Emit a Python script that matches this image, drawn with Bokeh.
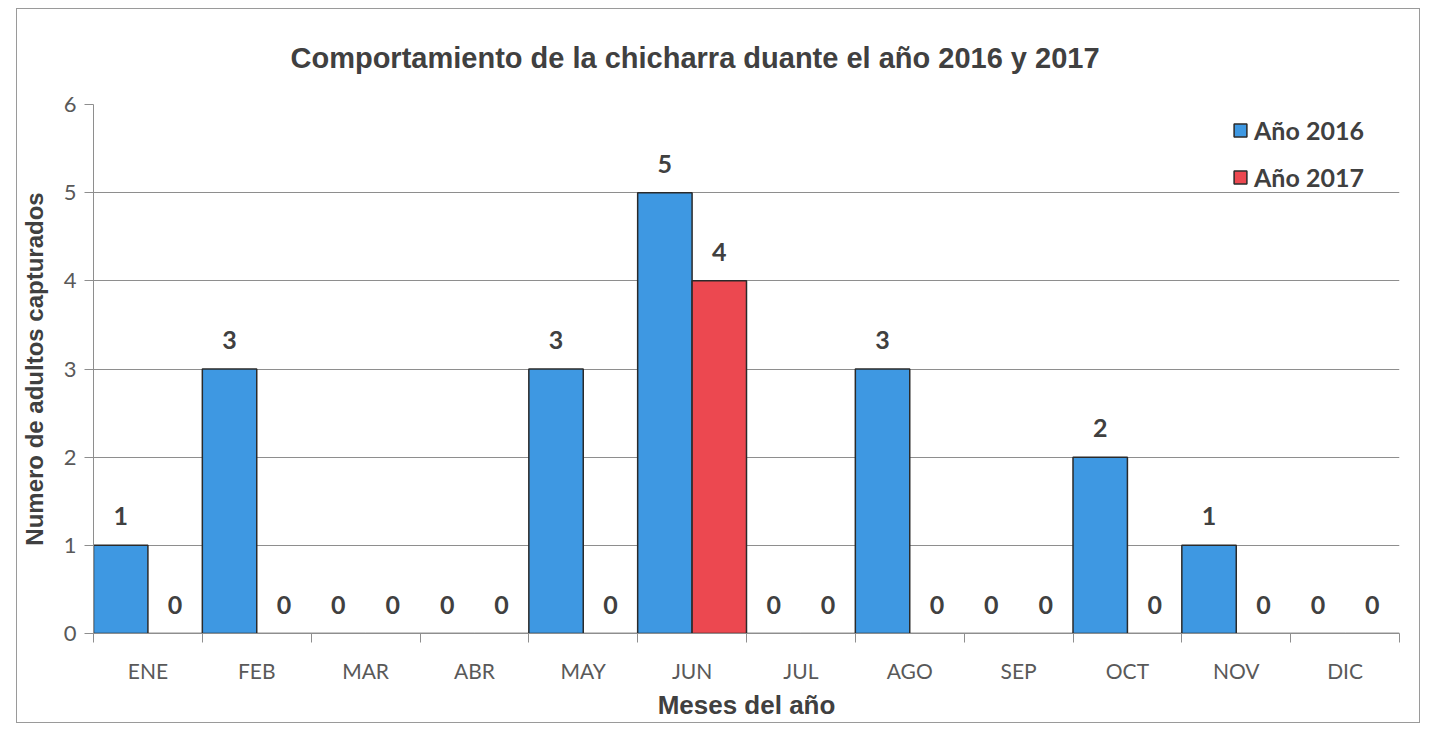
from bokeh.plotting import figure
from bokeh.models import (ColumnDataSource, FixedTicker, Legend, LegendItem,
                          LabelSet, Title)
from bokeh.core.properties import value
from bokeh.embed import file_html
from bokeh.resources import INLINE

# ---------------- data ----------------
months = ["ENE", "FEB", "MAR", "ABR", "MAY", "JUN", "JUL", "AGO", "SEP", "OCT", "NOV", "DIC"]
y2016 = [1, 3, 0, 0, 3, 5, 0, 3, 0, 2, 1, 0]
y2017 = [0, 0, 0, 0, 0, 4, 0, 0, 0, 0, 0, 0]
series_names = ["Año 2016", "Año 2017"]
y_ticks = [0, 1, 2, 3, 4, 5, 6]
title_text = "Comportamiento de la chicharra duante el año 2016 y 2017"
x_title = "Meses del año"
y_title = "Numero de adultos capturados"

# ---------------- styling ----------------
BLUE = "#3E98E2"
RED = "#EC4850"
EDGE = "#2A2A2A"
GRID = "#8E8E8E"
TXT = "#404040"
TICK_TXT = "#595959"

n = len(months)
centers = [i + 0.5 for i in range(n)]
x16 = [c - 0.25 for c in centers]
x17 = [c + 0.25 for c in centers]

src16 = ColumnDataSource(dict(x=x16, top=y2016, lbl=[str(v) for v in y2016]))
src17 = ColumnDataSource(dict(x=x17, top=y2017, lbl=[str(v) for v in y2017]))

p = figure(width=1404, height=715, x_range=(0, n), y_range=(0, 6),
           output_backend="svg", toolbar_location=None,
           min_border_left=75, min_border_right=22,
           min_border_top=95, min_border_bottom=91)
p.title = None
p.outline_line_color = None
p.background_fill_color = "white"
p.border_fill_color = "white"
p.styles = {"border": "1px solid #9a9a9a", "margin-left": "16px", "margin-top": "8px"}

r16 = p.vbar(x="x", top="top", width=0.5, source=src16, fill_color=BLUE,
             line_color=EDGE, line_width=1.5)
r17 = p.vbar(x="x", top="top", width=0.5, source=src17, fill_color=RED,
             line_color=EDGE, line_width=1.5)

for s in (src16, src17):
    p.add_layout(LabelSet(x="x", y="top", text="lbl", source=s, y_offset=29,
                          text_align="center", text_baseline="middle",
                          text_font=value("Lato"), text_font_style="bold",
                          text_font_size="25px", text_color=TXT))

# title
p.add_layout(Title(text=title_text, align="left", offset=197, standoff=61,
                   text_font="Liberation Sans", text_font_style="bold",
                   text_font_size="29px", text_color=TXT), "above")

# axes
xa = p.xaxis[0]
xa.ticker = FixedTicker(ticks=centers, minor_ticks=list(range(n + 1)))
xa.major_label_overrides = {c: m for c, m in zip(centers, months)}
xa.major_tick_out = 0
xa.major_tick_in = 0
xa.minor_tick_out = 9
xa.minor_tick_in = 0
xa.minor_tick_line_color = GRID
xa.axis_line_color = GRID
xa.major_label_standoff = 15
xa.major_label_text_font = "Lato"
xa.major_label_text_font_size = "21px"
xa.major_label_text_color = TICK_TXT
xa.axis_label = x_title
xa.axis_label_standoff = 4
xa.axis_label_text_font = "Liberation Sans"
xa.axis_label_text_font_style = "bold"
xa.axis_label_text_font_size = "26px"
xa.axis_label_text_color = TXT

ya = p.yaxis[0]
ya.ticker = FixedTicker(ticks=y_ticks, minor_ticks=[])
ya.major_tick_out = 9
ya.major_tick_in = 0
ya.major_tick_line_color = GRID
ya.axis_line_color = GRID
ya.major_label_standoff = 8
ya.major_label_text_font = "Lato"
ya.major_label_text_font_size = "22px"
ya.major_label_text_color = TICK_TXT
ya.axis_label = y_title
ya.axis_label_standoff = 13
ya.axis_label_text_font = "Liberation Sans"
ya.axis_label_text_font_style = "bold"
ya.axis_label_text_font_size = "24px"
ya.axis_label_text_color = TXT

p.xgrid.grid_line_color = None
p.ygrid.grid_line_color = GRID
p.ygrid.grid_line_width = 1

legend = Legend(items=[LegendItem(label=series_names[0], renderers=[r16]),
                       LegendItem(label=series_names[1], renderers=[r17])],
                location=(1139, 441), padding=0, margin=0,
                border_line_color=None, background_fill_alpha=0,
                glyph_width=16, glyph_height=16, label_height=30,
                spacing=17, label_standoff=6,
                label_text_font="Lato", label_text_font_style="bold",
                label_text_font_size="25px", label_text_color=TXT)
p.add_layout(legend)

open("out.html", "w").write(file_html(p, INLINE))
